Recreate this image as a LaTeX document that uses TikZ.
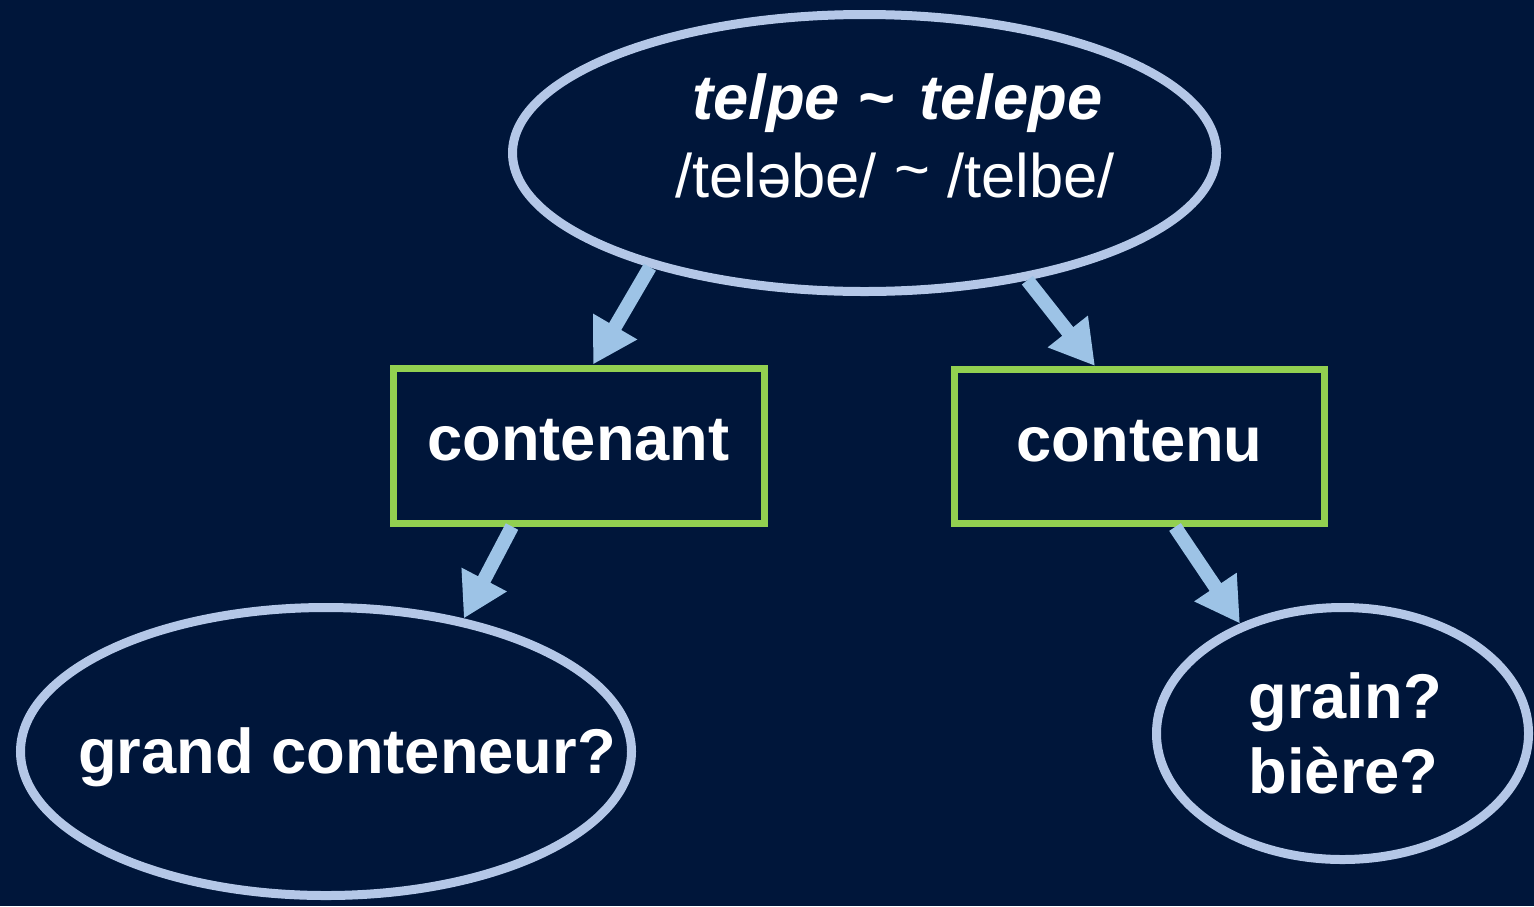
\documentclass[tikz,border=0pt]{standalone}
\usepackage{fontspec}
\setmainfont{Liberation Sans}
\usetikzlibrary{shapes.geometric,arrows.meta}
\definecolor{bg}{RGB}{0,22,58}
\definecolor{ellcol}{RGB}{180,199,231}
\definecolor{arrcol}{RGB}{157,195,230}
\definecolor{boxgreen}{RGB}{146,208,80}
\begin{document}
\begin{tikzpicture}[x=1cm,y=1cm,
  oval/.style={ellipse, draw=ellcol, line width=0.09cm, inner sep=0pt},
  labelbox/.style={rectangle, draw=boxgreen, line width=0.07cm, minimum width=3.71cm, minimum height=1.55cm, inner sep=0pt, text=white, font=\fontsize{18}{21.6}\selectfont\bfseries, text height=8.5pt, text depth=0pt},
  txt/.style={text=white, inner sep=0pt, anchor=base},
  boldtxt/.style={txt, font=\fontsize{18}{21.6}\selectfont\bfseries},
  conn/.style={draw=arrcol, line width=0.14cm, -{Triangle[length=0.44cm,width=0.48cm]}},
]
\fill[bg] (0,0) rectangle (15.34,-9.06);
\useasboundingbox (0,0) rectangle (15.34,-9.06);
% ellipses
\node[oval, minimum width=7.04cm, minimum height=2.77cm] (top) at (8.645,-1.53) {};
\node[oval, minimum width=6.11cm, minimum height=2.88cm] (big) at (3.26,-7.515) {};
\node[oval, minimum width=3.72cm, minimum height=2.52cm] (grain) at (13.425,-7.335) {};
% boxes
\node[labelbox] (cont) at (5.785,-4.455) {contenant};
\node[labelbox, minimum width=3.70cm, minimum height=1.54cm] (contu) at (11.395,-4.465) {contenu};
% texts
\node[txt, font=\fontsize{18}{21.6}\selectfont\bfseries\itshape] (t1) at (8.975,-1.19) {telpe \textasciitilde\ \hspace{0.12em}telepe};
\node[txt, font=\fontsize{17.5}{21}\selectfont] (t2) at (8.95,-1.97) {/teləbe/ \raisebox{0.07cm}{\textasciitilde} /telbe/};
\node[boldtxt] (gc) at (3.47,-7.73) {grand conteneur?};
\node[boldtxt] (g1) at (13.45,-7.18) {grain?};
\node[boldtxt] (g2) at (13.435,-7.93) {bière?};
% connectors
\draw[conn] (top.208) -- ([xshift=0.145cm]cont.north);
\draw[conn] (top.322) -- ([xshift=-0.445cm]contu.north);
\draw[conn] ([xshift=-0.665cm]cont.south) -- (big.44);
\draw[conn] ([xshift=0.355cm]contu.south) -- (grain.133.7);
\end{tikzpicture}
\end{document}
